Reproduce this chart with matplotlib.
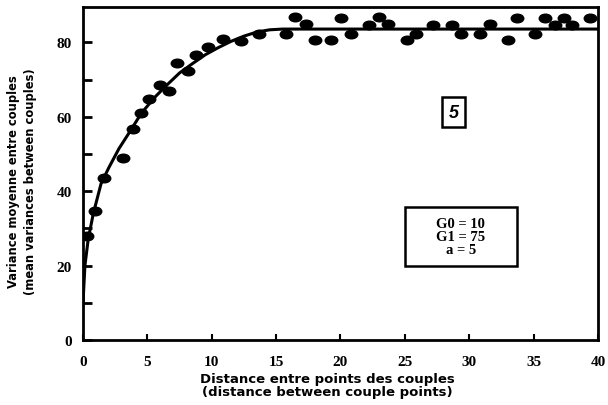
import matplotlib
matplotlib.use("Agg")
import matplotlib.pyplot as plt
from matplotlib.path import Path
from matplotlib.transforms import Affine2D
from matplotlib.patches import Rectangle

# Observed points (distance, mean variance)
pt_x = [0.3, 0.9, 1.65, 3.1, 3.85, 4.47, 5.14, 5.97, 6.67, 7.31, 8.16, 8.81,
        9.7, 10.9, 12.3, 13.7, 15.8, 16.5, 17.3, 18.0, 19.3, 20.05, 20.8,
        22.2, 23.0, 23.7, 25.2, 25.9, 27.2, 28.7, 29.4, 30.8, 31.6, 33.0,
        33.7, 35.1, 35.9, 36.7, 37.4, 38.0, 39.4]
pt_y = [28.0, 34.8, 43.5, 48.9, 56.7, 61.0, 64.8, 68.5, 66.9, 74.6, 72.4, 76.6,
        78.8, 80.9, 80.5, 82.4, 82.4, 86.9, 84.9, 80.6, 80.6, 86.7, 82.4,
        84.8, 86.9, 84.9, 80.6, 82.4, 84.8, 84.8, 82.4, 82.4, 84.9, 80.6,
        86.7, 82.4, 86.7, 84.8, 86.7, 84.8, 86.7]

# Fitted model curve
cv_x = [0, 0.15, 0.4, 0.8, 1.4, 2.0, 2.8, 3.6, 4.5, 5.5, 6.5, 7.5, 8.5, 9.5,
        10.5, 11.5, 12.5, 13.5, 14.5, 15.5, 40]
cv_y = [10, 20, 27, 34, 42, 46.3, 51.5, 55.8, 60.8, 65, 68.5, 71.8, 74.3, 76.7,
        78.6, 80.3, 81.7, 82.8, 83.4, 83.6, 83.6]

x_ticks = [0, 5, 10, 15, 20, 25, 30, 35, 40]
y_ticks = [0, 20, 40, 60, 80]

panel_label = "5"
params_text = "G0 = 10\nG1 = 75\na = 5"
xlabel = "Distance entre points des couples\n(distance between couple points)"
ylabel = "Variance moyenne entre couples\n(mean variances between couples)"

fig = plt.figure(figsize=(6.08, 4.06), dpi=100)
ax = fig.add_axes([0.1365, 0.160, 0.847, 0.820])

ellipse = Path.unit_circle().transformed(Affine2D().scale(1.45, 1.0))

ax.plot(cv_x, cv_y, color="black", lw=2.2, solid_capstyle="butt", zorder=3)
ax.plot(pt_x, pt_y, linestyle="none", marker=ellipse, markersize=9,
        color="black", zorder=4)

ax.set_xlim(0, 40)
ax.set_ylim(0, 89.5)
ax.set_xticks(x_ticks)
ax.set_yticks(y_ticks)
ax.set_yticks([10, 30, 50, 70], minor=True)
ax.tick_params(axis="y", which="both", direction="in", length=6.5, width=2)
ax.tick_params(axis="x", which="both", direction="in", length=4, width=1.5)
ax.tick_params(axis="y", pad=8)
ax.tick_params(axis="x", pad=11)
for lab in ax.get_xticklabels() + ax.get_yticklabels():
    lab.set_fontfamily("Liberation Serif")
    lab.set_fontweight("bold")
    lab.set_fontsize(11)
for s in ax.spines.values():
    s.set_linewidth(2)
    s.set_color("black")

fig.text(0.539, 0.049, xlabel, fontsize=9.5, fontweight="bold",
         family="DejaVu Sans", ha="center", va="center", linespacing=1.0)
fig.text(0.037, 0.552, ylabel, fontsize=8.3, fontweight="bold",
         family="DejaVu Sans", ha="center", va="center", rotation=90,
         linespacing=1.4)

ax.text(28.8, 61.3, panel_label, fontsize=13, fontweight="bold", style="italic",
        family="Liberation Sans", ha="center", va="center",
        bbox=dict(boxstyle="square,pad=0.35", fc="white", ec="black", lw=1.8))

ax.add_patch(Rectangle((25.0, 19.8), 8.7, 15.9, fill=False, ec="black", lw=1.8,
                       zorder=5))
ax.text(29.35, 27.9, params_text, fontsize=10.5, fontweight="bold",
        family="Liberation Serif", ha="center", va="center", linespacing=1.0)

fig.savefig("out.png", dpi=100)
